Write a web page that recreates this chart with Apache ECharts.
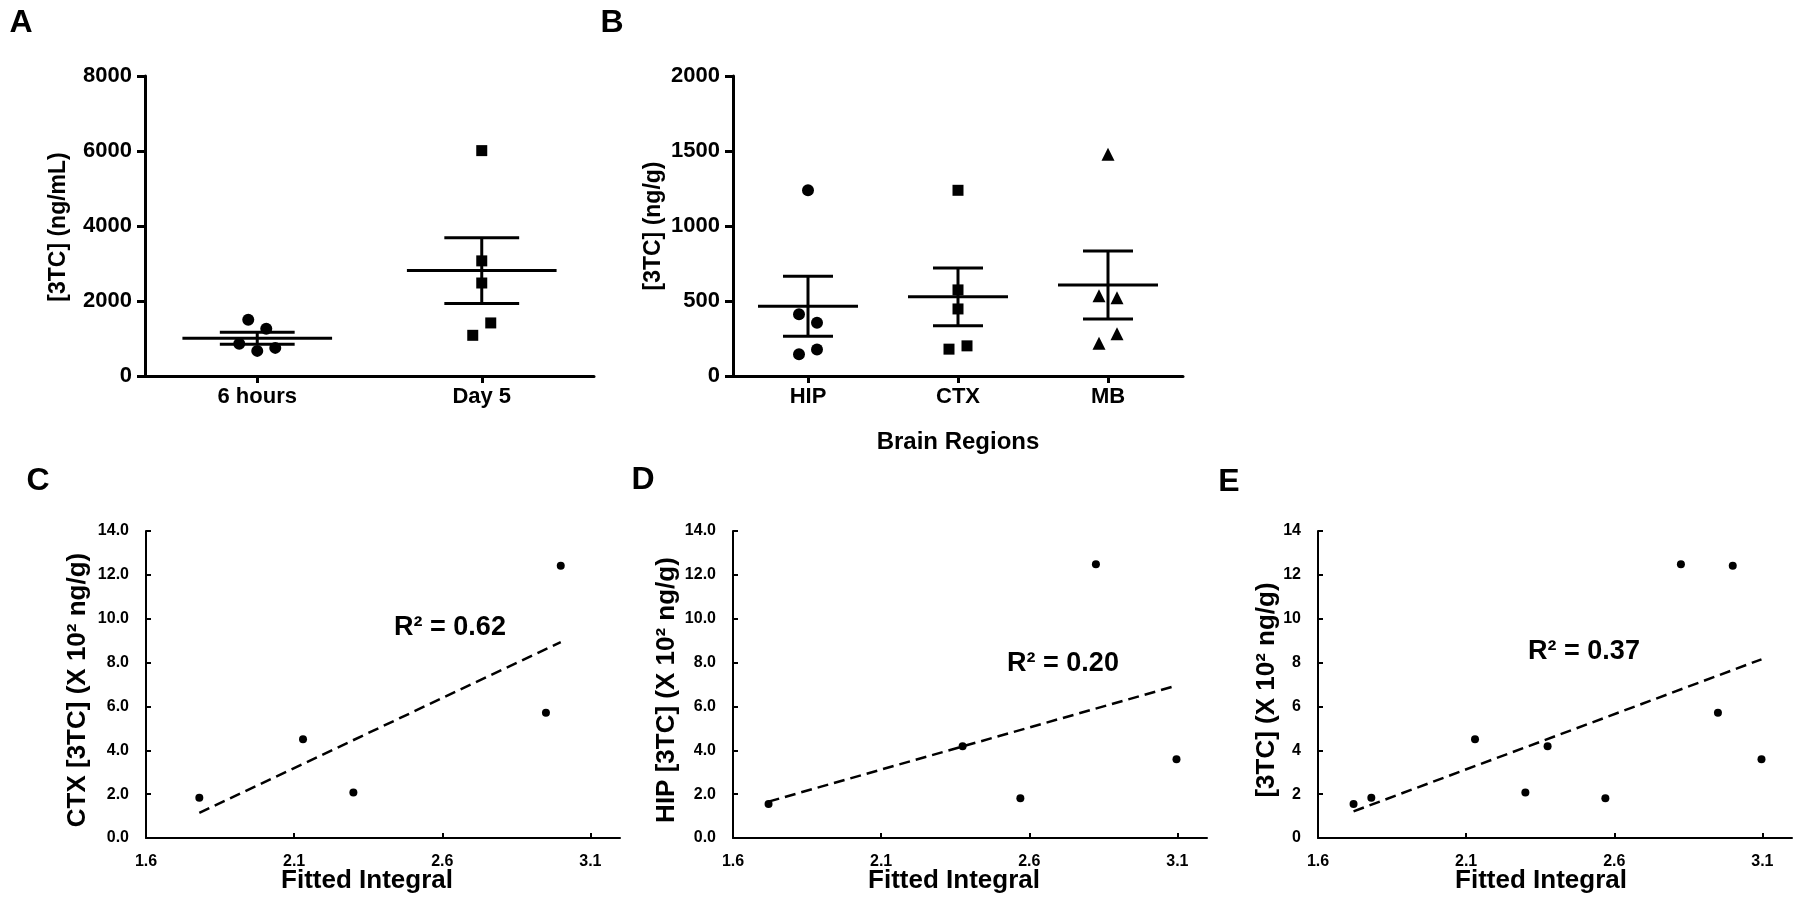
<!DOCTYPE html>
<html><head><meta charset="utf-8">
<script src="https://cdn.jsdelivr.net/npm/echarts@6/dist/echarts.min.js"></script>
<style>html,body{margin:0;padding:0;background:#fff}#c{width:1800px;height:907px}</style>
</head><body><div id="c"></div>
<script>
// ---------- Panel A ----------
const aCategories = ['6 hours', 'Day 5'];
const a6Hours = [1500, 1260, 860, 670, 750];
const aDay5 = [6010, 3070, 2480, 1415, 1085];
const aJitter6Hours = [-1, 1, -2, 0, 2];
const aJitterDay5 = [0, 0, 0, 1, -1];
const aYTicks = [0, 2000, 4000, 6000, 8000];

// ---------- Panel B ----------
const bCategories = ['HIP', 'CTX', 'MB'];
const bHIP = [1238, 411, 355, 177, 145];
const bCTX = [1238, 574, 447, 201, 179];
const bMB = [1478, 535, 522, 282, 218];
const bJitterHIP = [0, -1, 1, 1, -1];
const bJitterCTX = [0, 0, 0, 1, -1];
const bJitterMB = [0, -1, 1, 1, -1];
const bYTicks = [0, 500, 1000, 1500, 2000];

// ---------- Panels C, D, E ----------
const cX = [1.78, 2.13, 2.30, 2.95, 3.00];
const cY = [1.84, 4.50, 2.07, 5.71, 12.42];
const dX = [1.72, 2.375, 2.57, 2.825, 3.097];
const dY = [1.55, 4.18, 1.81, 12.48, 3.59];
const eX = cX.concat(dX);
const eY = cY.concat(dY);
const fitXTicks = [1.6, 2.1, 2.6, 3.1];
const fitYTicks = [0, 2, 4, 6, 8, 10, 12, 14];
const r2Labels = ['R\u00B2 = 0.62', 'R\u00B2 = 0.20', 'R\u00B2 = 0.37'];
const yTitles = ['[3TC] (ng/mL)', '[3TC] (ng/g)', 'CTX [3TC] (X 10\u00B2 ng/g)', 'HIP [3TC] (X 10\u00B2 ng/g)', '[3TC] (X 10\u00B2 ng/g)'];

const FONT = '"Liberation Sans", Arial, sans-serif';
const chart = echarts.init(document.getElementById('c'), null, {renderer: 'canvas'});

function meanSem(arr) {
  const n = arr.length;
  const m = arr.reduce((a, b) => a + b, 0) / n;
  const sd = Math.sqrt(arr.reduce((a, b) => a + (b - m) * (b - m), 0) / (n - 1));
  return [m, sd / Math.sqrt(n)];
}
function fit(xs, ys) {
  const n = xs.length;
  const mx = xs.reduce((a, b) => a + b, 0) / n, my = ys.reduce((a, b) => a + b, 0) / n;
  let sxy = 0, sxx = 0;
  for (let i = 0; i < n; i++) { sxy += (xs[i] - mx) * (ys[i] - my); sxx += (xs[i] - mx) * (xs[i] - mx); }
  const b = sxy / sxx, a = my - b * mx;
  const x0 = Math.min(...xs), x1 = Math.max(...xs);
  return [[x0, a + b * x0], [x1, a + b * x1]];
}

const grids = [
  {left: 145, top: 76, width: 449, height: 300},
  {left: 733, top: 76, width: 450, height: 300},
  {left: 146, top: 531, width: 474, height: 307},
  {left: 733, top: 531, width: 474, height: 307},
  {left: 1318, top: 531, width: 474, height: 307}
];

function catXAxis(gi, cats) {
  return {
    gridIndex: gi, type: 'value', min: -0.5, max: cats.length - 0.5,
    axisLine: {onZero: false, lineStyle: {color: '#000', width: 3}},
    axisTick: {customValues: cats.map((c, i) => i), length: 7, lineStyle: {color: '#000', width: 3}},
    axisLabel: {customValues: cats.map((c, i) => i), formatter: v => cats[Math.round(v)] || '',
      color: '#000', fontSize: 22, fontWeight: 'bold', fontFamily: FONT, margin: 10},
    splitLine: {show: false}
  };
}
function catYAxis(gi, ticks) {
  return {
    gridIndex: gi, type: 'value', min: ticks[0], max: ticks[ticks.length - 1], interval: ticks[1] - ticks[0],
    axisLine: {show: true, onZero: false, lineStyle: {color: '#000', width: 3}},
    axisTick: {show: true, length: 8, lineStyle: {color: '#000', width: 3}},
    axisLabel: {formatter: v => String(v), color: '#000', fontSize: 22, fontWeight: 'bold', fontFamily: FONT, margin: 13},
    splitLine: {show: false}
  };
}
function fitXAxis(gi) {
  return {
    gridIndex: gi, type: 'value', min: 1.6, max: 3.2,
    axisLine: {onZero: false, lineStyle: {color: '#000', width: 2}},
    axisTick: {inside: true, length: 5, customValues: fitXTicks, lineStyle: {color: '#000', width: 2}},
    axisLabel: {customValues: fitXTicks, formatter: v => v.toFixed(1), color: '#000', fontSize: 16,
      fontWeight: 'bold', fontFamily: FONT, margin: 16},
    splitLine: {show: false}
  };
}
function fitYAxis(gi, decimals) {
  return {
    gridIndex: gi, type: 'value', min: 0, max: 14, interval: 2,
    axisLine: {show: true, onZero: false, lineStyle: {color: '#000', width: 2}},
    axisTick: {show: true, inside: true, length: 5, lineStyle: {color: '#000', width: 2}},
    axisLabel: {formatter: v => v.toFixed(decimals), color: '#000', fontSize: 16, fontWeight: 'bold',
      fontFamily: FONT, margin: 17},
    splitLine: {show: false}
  };
}

function semSeries(ai, groups) {
  return {
    type: 'custom', xAxisIndex: ai, yAxisIndex: ai, silent: true, z: 3,
    data: groups.map((g, i) => { const ms = meanSem(g); return [i, ms[0], ms[1]]; }),
    renderItem(params, api) {
      const i = api.value(0), m = api.value(1), s = api.value(2);
      const a0 = api.coord([i - 1 / 3, m]), a1 = api.coord([i + 1 / 3, m]);
      const hi = api.coord([i, m + s]), lo = api.coord([i, m - s]);
      const c0 = api.coord([i - 1 / 6, m])[0], c1 = api.coord([i + 1 / 6, m])[0];
      const st = {stroke: '#000', lineWidth: 3};
      return {type: 'group', children: [
        {type: 'line', shape: {x1: a0[0], y1: a0[1], x2: a1[0], y2: a1[1]}, style: st},
        {type: 'line', shape: {x1: hi[0], y1: hi[1], x2: lo[0], y2: lo[1]}, style: st},
        {type: 'line', shape: {x1: c0, y1: hi[1], x2: c1, y2: hi[1]}, style: st},
        {type: 'line', shape: {x1: c0, y1: lo[1], x2: c1, y2: lo[1]}, style: st}
      ]};
    }
  };
}
function dotSeries(ai, idx, vals, jitter, symbol, size) {
  return {
    type: 'scatter', xAxisIndex: ai, yAxisIndex: ai, symbol: symbol, symbolSize: size,
    itemStyle: {color: '#000', opacity: 1}, z: 4,
    data: vals.map((v, k) => ({value: [idx, v], symbolOffset: [jitter[k] * 9, 0]}))
  };
}
function fitScatter(ai, xs, ys) {
  return {type: 'scatter', xAxisIndex: ai, yAxisIndex: ai, symbol: 'circle', symbolSize: 8,
    itemStyle: {color: '#000', opacity: 1}, z: 4, data: xs.map((x, k) => [x, ys[k]])};
}
function fitLine(ai, xs, ys) {
  return {type: 'line', xAxisIndex: ai, yAxisIndex: ai, symbol: 'none', z: 3,
    lineStyle: {color: '#000', width: 2.5, type: [11, 6]}, data: fit(xs, ys)};
}

function txt(x, y, text, size, rot) {
  return {type: 'text', x: x, y: y, rotation: rot || 0,
    style: {text: text, fill: '#000', font: 'bold ' + size + 'px ' + FONT, align: 'center', verticalAlign: 'middle'}};
}

const option = {
  backgroundColor: '#fff',
  animation: false,
  grid: grids,
  xAxis: [catXAxis(0, aCategories), catXAxis(1, bCategories), fitXAxis(2), fitXAxis(3), fitXAxis(4)],
  yAxis: [catYAxis(0, aYTicks), catYAxis(1, bYTicks), fitYAxis(2, 1), fitYAxis(3, 1), fitYAxis(4, 0)],
  series: [
    dotSeries(0, 0, a6Hours, aJitter6Hours, 'circle', 12),
    dotSeries(0, 1, aDay5, aJitterDay5, 'rect', 11),
    semSeries(0, [a6Hours, aDay5]),
    dotSeries(1, 0, bHIP, bJitterHIP, 'circle', 12),
    dotSeries(1, 1, bCTX, bJitterCTX, 'rect', 11),
    dotSeries(1, 2, bMB, bJitterMB, 'triangle', 13),
    semSeries(1, [bHIP, bCTX, bMB]),
    fitScatter(2, cX, cY), fitLine(2, cX, cY),
    fitScatter(3, dX, dY), fitLine(3, dX, dY),
    fitScatter(4, eX, eY), fitLine(4, eX, eY)
  ],
  graphic: [
    txt(21, 23, 'A', 32), txt(612, 23, 'B', 32),
    txt(38, 481, 'C', 32), txt(643, 480, 'D', 32), txt(1229, 482, 'E', 32),
    txt(59, 227, yTitles[0], 23, Math.PI / 2),
    txt(654, 226, yTitles[1], 23, Math.PI / 2),
    txt(78, 690, yTitles[2], 26, Math.PI / 2),
    txt(667, 690, yTitles[3], 26, Math.PI / 2),
    txt(1267, 690, yTitles[4], 26, Math.PI / 2),
    txt(958, 442, 'Brain Regions', 24),
    txt(367, 881, 'Fitted Integral', 26), txt(954, 881, 'Fitted Integral', 26), txt(1541, 881, 'Fitted Integral', 26),
    txt(450, 628, r2Labels[0], 27), txt(1063, 664, r2Labels[1], 27), txt(1584, 652, r2Labels[2], 27)
  ]
};
chart.setOption(option);
</script>
</body></html>
